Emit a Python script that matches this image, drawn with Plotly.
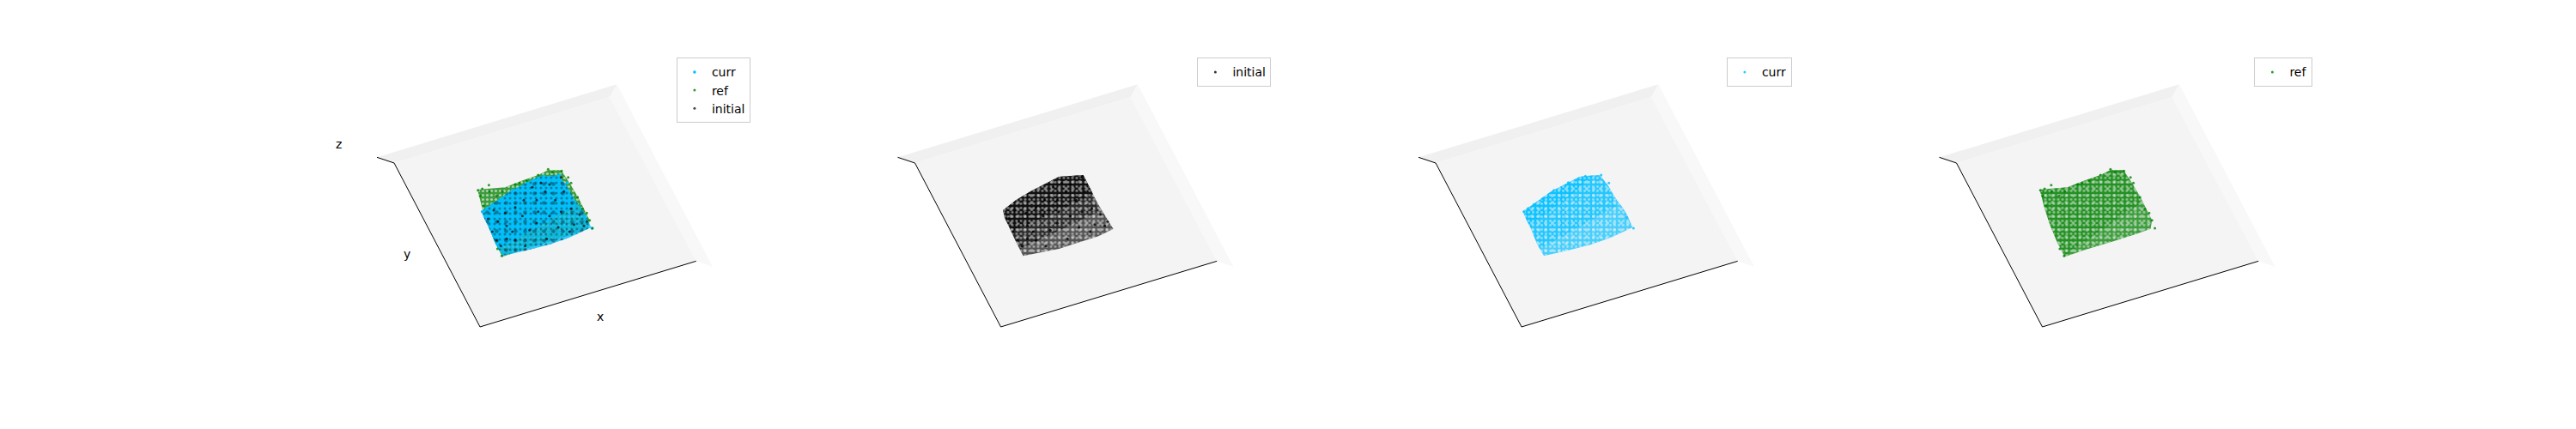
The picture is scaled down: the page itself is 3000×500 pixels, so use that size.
import plotly.graph_objects as go

# View coordinates of the 3D box
floor_x = [237, 990, 1292, 537, 237]
floor_y = [420, 190, 763, 993, 420]
back_x = [177, 1015, 990, 237, 177]
back_y = [400, 145, 190, 420, 400]
side_x = [1015, 1350, 1292, 990, 1015]
side_y = [145, 783, 763, 190, 145]
edge_x = [177, 237, 537, 1292]
edge_y = [400, 420, 993, 763]

# Outlines of the point clouds
initial_x = [545, 590, 640, 700, 740, 825, 850, 875, 905, 930, 880, 800, 740, 615, 590, 565, 550]
initial_y = [585, 550, 520, 490, 468, 462, 510, 560, 610, 650, 675, 700, 720, 745, 695, 640, 610]
curr_x = [542, 570, 640, 700, 740, 810, 840, 870, 890, 905, 925, 850, 780, 700, 615, 590, 570, 550]
curr_y = [588, 570, 520, 490, 468, 462, 500, 550, 575, 600, 645, 680, 705, 725, 745, 700, 650, 610]
ref_x = [528, 570, 625, 680, 740, 775, 820, 850, 880, 905, 920, 915, 860, 780, 690, 615, 590, 565, 545, 535]
ref_y = [513, 510, 505, 483, 462, 445, 445, 490, 540, 590, 620, 650, 670, 695, 722, 748, 700, 640, 580, 540]

# Bands of each cloud where the points look denser, nearest the upper left
initial_mid_x = [545, 590, 640, 700, 740, 825, 850, 880, 605, 590, 565, 550]
initial_mid_y = [585, 550, 520, 490, 468, 462, 510, 590, 720, 695, 640, 610]
initial_core_x = [545, 590, 640, 700, 740, 825, 850, 860, 575, 565, 550]
initial_core_y = [585, 550, 520, 490, 468, 462, 510, 530, 660, 640, 610]
curr_mid_x = [542, 570, 640, 700, 740, 810, 840, 870, 600, 590, 570, 550]
curr_mid_y = [588, 570, 520, 490, 468, 462, 500, 570, 720, 700, 650, 610]
curr_core_x = [542, 570, 640, 700, 740, 790, 700, 565, 550]
curr_core_y = [588, 570, 520, 490, 468, 462, 540, 640, 610]
ref_mid_x = [528, 570, 625, 680, 740, 775, 820, 850, 880, 620, 590, 565, 545, 535]
ref_mid_y = [513, 510, 505, 483, 462, 445, 445, 490, 560, 740, 700, 640, 580, 540]

# Individual marks
initial_pts_x = [580, 625, 660, 685, 735, 780, 820, 765, 610, 660, 600, 585, 565, 740, 820, 855, 865, 810, 710, 770, 690, 630, 650, 800, 720, 750, 830, 630, 595, 695, 780, 735, 850, 900, 910, 885]
initial_pts_y = [660, 595, 575, 605, 550, 495, 470, 520, 710, 690, 625, 585, 615, 590, 590, 580, 635, 645, 655, 685, 550, 640, 660, 550, 505, 490, 520, 685, 690, 710, 605, 630, 660, 640, 625, 600]
ref_pts_x = [530, 538, 550, 568, 545, 570, 595, 615, 660, 675, 700, 740, 775, 790, 822, 845, 855, 878, 895, 920, 930, 910, 613, 598]
ref_pts_y = [515, 535, 570, 497, 510, 520, 535, 520, 495, 490, 482, 462, 442, 452, 448, 470, 490, 540, 580, 620, 648, 595, 745, 720]
curr_pts_x = [545, 560, 580, 610, 650, 700, 760, 815, 842, 905, 928]
curr_pts_y = [590, 578, 565, 545, 515, 488, 466, 462, 490, 610, 648]

CURR = "#00bfff"
REF = "#008000"
INIT = "#000000"
PANE = "#f4f4f4"
PANEL_START = [375 + 606.5 * k for k in range(4)]
PANEL_WIDTH = 505.4


def rgba(color, alpha):
    r, g, b = int(color[1:3], 16), int(color[3:5], 16), int(color[5:7], 16)
    return f"rgba({r},{g},{b},{alpha})"


def tone(x, y, color, alpha, axis):
    return go.Scatter(x=x + x[:1], y=y + y[:1], mode="lines", line=dict(width=0), fill="toself",
                      fillcolor=rgba(color, alpha), hoverinfo="skip", showlegend=False,
                      xaxis=f"x{axis}", yaxis=f"y{axis}")


def stipple(x, y, color, size, solidity, opacity, axis):
    return go.Scatter(x=x + x[:1], y=y + y[:1], mode="lines", line=dict(width=0), fill="toself",
                      fillcolor="rgba(0,0,0,0)", hoverinfo="skip", showlegend=False,
                      fillpattern=dict(shape=".", size=size, solidity=solidity, fgcolor=color,
                                       fgopacity=opacity, bgcolor="rgba(0,0,0,0)"),
                      xaxis=f"x{axis}", yaxis=f"y{axis}")


def points(x, y, color, name, legend, axis, opacity, size):
    return go.Scatter(x=x, y=y, mode="markers", name=name, legend=legend,
                      marker=dict(color=color, size=size, opacity=opacity, line=dict(width=0)),
                      xaxis=f"x{axis}", yaxis=f"y{axis}")


SERIES = {
    "initial": dict(color=INIT, x=initial_x, y=initial_y, mx=initial_mid_x, my=initial_mid_y,
                    cx=initial_core_x, cy=initial_core_y, px=initial_pts_x, py=initial_pts_y,
                    tones=(0.65, 0.5, 0.6)),
    "curr": dict(color=CURR, x=curr_x, y=curr_y, mx=curr_mid_x, my=curr_mid_y,
                 cx=curr_core_x, cy=curr_core_y, px=curr_pts_x, py=curr_pts_y,
                 tones=(0.7, 0.5, 0.6)),
    "ref": dict(color=REF, x=ref_x, y=ref_y, mx=ref_mid_x, my=ref_mid_y,
                cx=ref_mid_x, cy=ref_mid_y, px=ref_pts_x, py=ref_pts_y,
                tones=(0.75, 0.3, 0.15)),
}


def cloud_layers(name, axis):
    s = SERIES[name]
    a0, a1, a2 = s["tones"]
    return [tone(s["x"], s["y"], s["color"], a0, axis),
            tone(s["mx"], s["my"], s["color"], a1, axis),
            tone(s["cx"], s["cy"], s["color"], a2, axis),
            stipple(s["x"], s["y"], PANE, 5, 0.28, 0.5, axis),
            stipple(s["x"], s["y"], PANE, 8, 0.2, 0.5, axis)]


fig = go.Figure()
legend_ids = ["legend", "legend2", "legend3", "legend4"]
panel_series = [None, "initial", "curr", "ref"]

for k, name in enumerate(panel_series):
    a = "" if k == 0 else str(k + 1)
    for px, py, col in [(back_x, back_y, "#f0f0f0"), (side_x, side_y, "#f8f8f8"), (floor_x, floor_y, PANE)]:
        fig.add_trace(go.Scatter(x=px, y=py, mode="lines", line=dict(width=0), fill="toself",
                                 fillcolor=col, hoverinfo="skip", showlegend=False,
                                 xaxis=f"x{a}", yaxis=f"y{a}"))
    fig.add_trace(go.Scatter(x=edge_x, y=edge_y, mode="lines", line=dict(color="#000000", width=1),
                             hoverinfo="skip", showlegend=False, xaxis=f"x{a}", yaxis=f"y{a}"))
    if k == 0:
        # Overlay panel: green lies beneath, blue covers most, dark marks show through
        fig.add_trace(tone(ref_x, ref_y, REF, 0.75, a))
        fig.add_trace(stipple(ref_x, ref_y, PANE, 5, 0.3, 0.6, a))
        fig.add_trace(tone(curr_x, curr_y, CURR, 0.8, a))
        fig.add_trace(tone(curr_mid_x, curr_mid_y, CURR, 0.85, a))
        fig.add_trace(stipple(curr_x, curr_y, "#0a2a30", 6, 0.2, 0.45, a))
        fig.add_trace(stipple(curr_x, curr_y, "#0a2a30", 11, 0.14, 0.45, a))
        fig.add_trace(points(curr_pts_x, curr_pts_y, CURR, "curr", "legend", a, 1, 3.5))
        fig.add_trace(points(ref_pts_x, ref_pts_y, REF, "ref", "legend", a, 0.8, 3))
        fig.add_trace(points(initial_pts_x, initial_pts_y, INIT, "initial", "legend", a, 0.7, 3))
    else:
        s = SERIES[name]
        fig.add_traces(cloud_layers(name, a))
        fig.add_trace(points(s["px"], s["py"], s["color"], name, legend_ids[k], a, 0.8, 3))

axis_common = dict(visible=False, fixedrange=True)
layout = dict(width=3000, height=500, margin=dict(l=0, r=0, t=0, b=0),
              paper_bgcolor="white", plot_bgcolor="rgba(0,0,0,0)",
              font=dict(family="DejaVu Sans", size=14, color="#000000"))
legend_style = dict(bgcolor="rgba(255,255,255,0.8)", bordercolor="#cccccc", borderwidth=1,
                    xanchor="right", yanchor="top", yref="paper", xref="paper",
                    y=1 - 67.3 / 500, itemsizing="trace", itemwidth=30, traceorder="normal",
                    font=dict(family="DejaVu Sans", size=14))
for k in range(4):
    suffix = "" if k == 0 else str(k + 1)
    layout[f"xaxis{suffix}"] = dict(domain=[PANEL_START[k] / 3000, (PANEL_START[k] + PANEL_WIDTH) / 3000],
                                    range=[-15, 1501], **axis_common)
    layout[f"yaxis{suffix}"] = dict(domain=[0, 1], range=[1350, -150], **axis_common)
    lid = "legend" if k == 0 else f"legend{k + 1}"
    layout[lid] = dict(x=(PANEL_START[k] + PANEL_WIDTH - 6.5) / 3000, **legend_style)
fig.update_layout(**layout)

for text, x, y in [("x", 957, 958), ("y", 283, 738), ("z", 44, 355)]:
    fig.add_annotation(text=text, x=x, y=y, xref="x", yref="y", showarrow=False,
                       font=dict(family="DejaVu Sans", size=14, color="#000000"))

fig.write_html("out.html", config=dict(displayModeBar=False),
               post_script="document.body.style.margin='0';")
